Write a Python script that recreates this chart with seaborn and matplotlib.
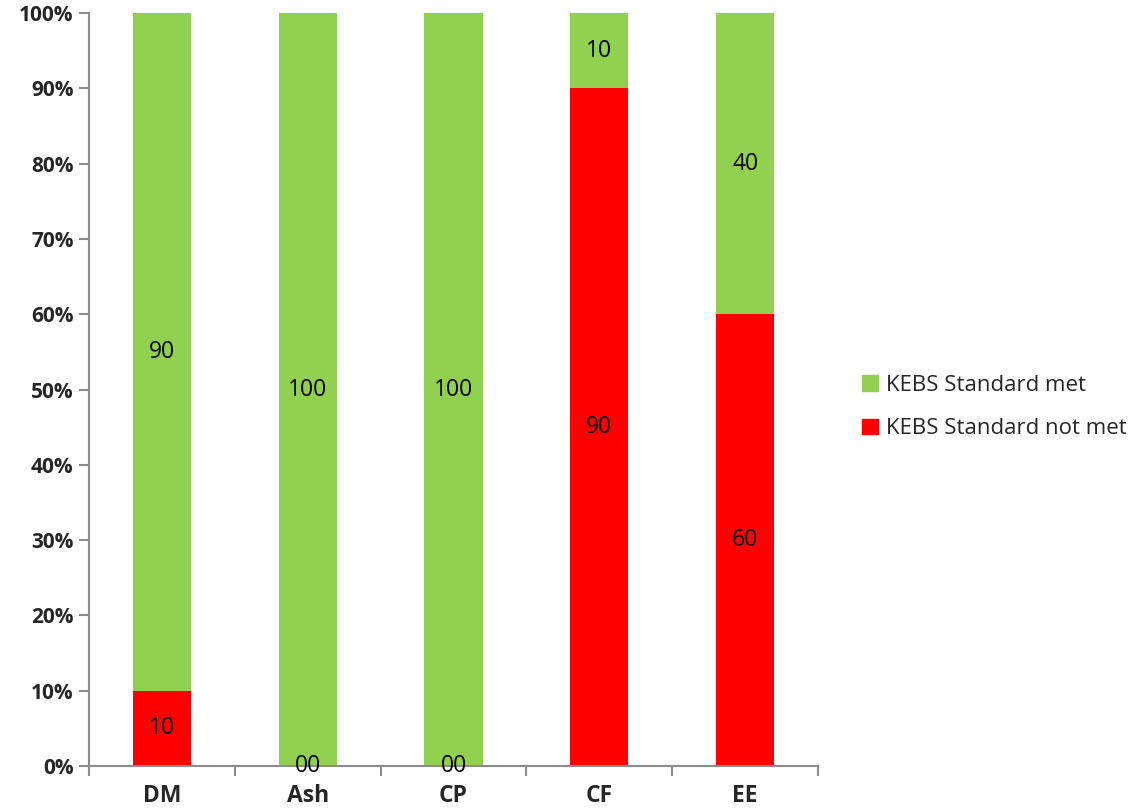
import matplotlib
matplotlib.use("Agg")
import matplotlib.pyplot as plt
import matplotlib.patches as mpatches
import numpy as np
import pandas as pd
import seaborn as sns

categories = ["DM", "Ash", "CP", "CF", "EE"]
standard_met = [90, 100, 100, 10, 40]
standard_not_met = [10, 0, 0, 90, 60]
y_tick_labels = ["0%", "10%", "20%", "30%", "40%", "50%", "60%", "70%", "80%", "90%", "100%"]

GREEN = "#92D050"
RED = "#FF0000"
AXIS_GREY = "#8C8C8C"

sns.set_theme(style="white")
plt.rcParams["font.family"] = ["Open Sans", "DejaVu Sans"]

df = pd.DataFrame({
    "category": categories,
    "met": standard_met,
    "not_met": standard_not_met,
})
df["total"] = df["met"] + df["not_met"]

fig = plt.figure(figsize=(11.34, 8.11), dpi=100)
ax = fig.add_axes([89 / 1134, 1 - 766 / 811, (818 - 89) / 1134, (766 - 13) / 811])

# stacked bars: full-height "met" layer underneath, "not met" drawn from the base
sns.barplot(data=df, x="category", y="total", color=GREEN, width=0.4,
            saturation=1, linewidth=0, ax=ax, zorder=2)
sns.barplot(data=df, x="category", y="not_met", color=RED, width=0.4,
            saturation=1, linewidth=0, ax=ax, zorder=3)

LABEL_SIZE = 16.5
# segment value labels
for i, row in df.iterrows():
    nm, m = row["not_met"], row["met"]
    if nm > 0:
        ax.text(i, nm / 2, f"{nm:g}", ha="center", va="center", fontsize=LABEL_SIZE,
                color="black", zorder=5)
        ax.text(i, nm + m / 2, f"{m:g}", ha="center", va="center", fontsize=LABEL_SIZE,
                color="black", zorder=5)
    else:
        ax.text(i, m / 2, f"{m:g}", ha="center", va="center", fontsize=LABEL_SIZE,
                color="black", zorder=5)
        ax.text(i, 0, "00", ha="center", va="center", fontsize=LABEL_SIZE,
                color="black", zorder=5, clip_on=False)

ax.set_ylim(0, 100)
ax.set_xlim(-0.5, len(categories) - 0.5)
ax.set_yticks(np.arange(0, 101, 10))
ax.set_yticklabels(y_tick_labels, fontsize=15, fontweight="bold")
ax.set_xticks(range(len(categories)))
ax.set_xticklabels(categories, fontsize=16.5, fontweight="bold")
ax.set_xticks(np.arange(-0.5, len(categories)), minor=True)
ax.tick_params(axis="x", which="major", length=0, pad=13)
ax.tick_params(axis="x", which="minor", length=7, width=1.5, color=AXIS_GREY,
               direction="out", bottom=True)
ax.tick_params(axis="y", which="major", length=7, width=1.5, color=AXIS_GREY,
               direction="out", left=True, pad=4)
ax.set_xlabel("")
ax.set_ylabel("")

for side in ["top", "right"]:
    ax.spines[side].set_visible(False)
for side in ["left", "bottom"]:
    ax.spines[side].set_color(AXIS_GREY)
    ax.spines[side].set_linewidth(1.5)
    ax.spines[side].set_zorder(4)

handles = [mpatches.Patch(color=GREEN, label="KEBS Standard met"),
           mpatches.Patch(color=RED, label="KEBS Standard not met")]
fig.legend(handles=handles, loc="center left",
           bbox_to_anchor=(842 / 1134, 1 - 407 / 811), frameon=False,
           fontsize=16, handlelength=0.7, handleheight=0.7, handletextpad=0.4,
           labelspacing=1.0)

fig.savefig("out.png", dpi=100)
